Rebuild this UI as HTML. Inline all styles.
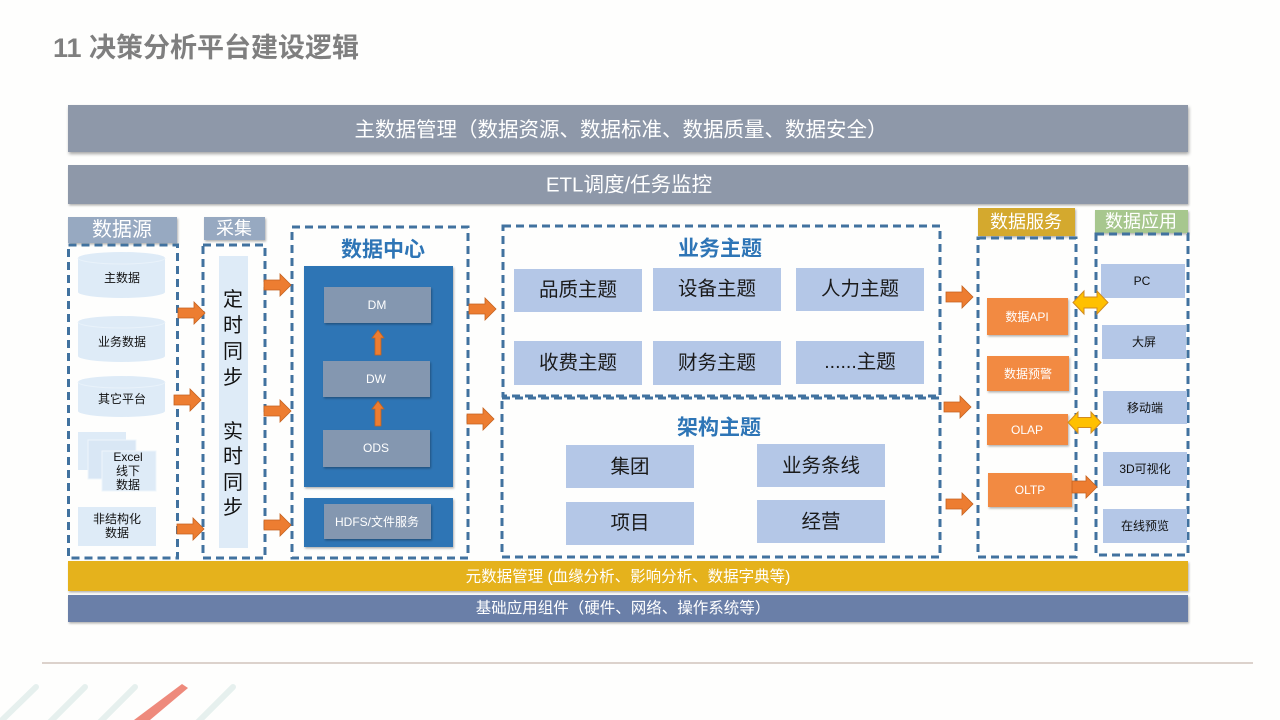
<!DOCTYPE html>
<html><head><meta charset="utf-8"><style>
html,body{margin:0;padding:0;background:#fefefd;}
svg{display:block;}
text{font-family:"Liberation Sans","Noto Sans CJK SC",sans-serif;}
</style></head><body>
<svg width="1280" height="720" viewBox="0 0 1280 720" xmlns="http://www.w3.org/2000/svg">
<defs>
<filter id="sh" x="-5%" y="-20%" width="110%" height="150%"><feDropShadow dx="1" dy="2" stdDeviation="1.5" flood-color="#000" flood-opacity="0.35"/></filter>
<filter id="sh2" x="-5%" y="-20%" width="110%" height="150%"><feDropShadow dx="1" dy="1.5" stdDeviation="1" flood-color="#000" flood-opacity="0.3"/></filter>
<polygon id="ra" points="0,6 16,6 16,0 27,11 16,22 16,16 0,16" fill="#ed7d31" stroke="#c5621f" stroke-width="0.8"/>
<polygon id="ua" points="6,0 12,8 9,8 9,25 3,25 3,8 0,8" fill="#ed7d31" stroke="#c5621f" stroke-width="0.8"/>
</defs>

<rect width="1280" height="720" fill="#fefefd"/>

<!-- title -->
<text x="53" y="57" font-size="27" font-weight="bold" fill="#7f7f7f">11 决策分析平台建设逻辑</text>

<!-- top bars -->
<rect x="68" y="105" width="1120" height="47" fill="#8e98a9" filter="url(#sh)"/>
<text x="621" y="130" font-size="20.5" fill="#ffffff" text-anchor="middle" dominant-baseline="central">主数据管理（数据资源、数据标准、数据质量、数据安全）</text>
<rect x="68" y="165" width="1120" height="39" fill="#8e98a9" filter="url(#sh2)"/>
<text x="629" y="185" font-size="20.5" fill="#ffffff" text-anchor="middle" dominant-baseline="central">ETL调度/任务监控</text>

<!-- labels -->
<rect x="68" y="217" width="109" height="26" fill="#97a9c1" filter="url(#sh2)"/>
<text x="122" y="230" font-size="20" fill="#fff" text-anchor="middle" dominant-baseline="central">数据源</text>
<rect x="204" y="217" width="61" height="23" fill="#97a9c1" filter="url(#sh2)"/>
<text x="234" y="228.5" font-size="18" fill="#fff" text-anchor="middle" dominant-baseline="central">采集</text>
<rect x="978" y="208" width="97" height="28" fill="#d4a92e" filter="url(#sh2)"/>
<text x="1026" y="222" font-size="18" fill="#fff" text-anchor="middle" dominant-baseline="central">数据服务</text>
<rect x="1095" y="210" width="93" height="23" fill="#a7c78e" filter="url(#sh2)"/>
<text x="1141" y="221.5" font-size="18" fill="#fff" text-anchor="middle" dominant-baseline="central">数据应用</text>

<!-- dashed boxes -->
<g fill="none" stroke="#41729f" stroke-width="3" stroke-dasharray="8 5">
<rect x="68.5" y="245" width="109" height="313"/>
<rect x="203" y="245" width="62" height="313"/>
<rect x="292" y="227" width="176" height="331"/>
<rect x="503" y="226" width="437" height="170"/>
<rect x="502" y="398" width="438" height="159"/>
<rect x="978" y="238" width="98" height="319"/>
<rect x="1096" y="234" width="92" height="321"/>
</g>

<!-- data sources -->
<g fill="#deebf7">
<path d="M78,258 a43.5,6 0 0 1 87,0 v34 a43.5,6 0 0 1 -87,0 z"/>
<path d="M78,322 a43.5,6 0 0 1 87,0 v34 a43.5,6 0 0 1 -87,0 z"/>
<path d="M78,382 a43.5,6 0 0 1 87,0 v29 a43.5,6 0 0 1 -87,0 z"/>
</g>
<g fill="none" stroke="#e9f2fa" stroke-width="1">
<path d="M78,258 a43.5,6 0 0 0 87,0"/>
<path d="M78,322 a43.5,6 0 0 0 87,0"/>
<path d="M78,382 a43.5,6 0 0 0 87,0"/>
</g>
<rect x="78" y="432" width="48" height="38" fill="#deebf7"/>
<rect x="88" y="440" width="48" height="39" fill="#d9e7f5" stroke="#eef5fb" stroke-width="1"/>
<rect x="102" y="451" width="54" height="40" fill="#deebf7" stroke="#eef5fb" stroke-width="1"/>
<rect x="78" y="507" width="78" height="39" fill="#deebf7"/>
<g font-size="12" fill="#111" text-anchor="middle" dominant-baseline="central">
<text x="122" y="278">主数据</text>
<text x="122" y="342">业务数据</text>
<text x="122" y="399">其它平台</text>
<text x="128" y="457">Excel</text>
<text x="128" y="471">线下</text>
<text x="128" y="485">数据</text>
<text x="117" y="519">非结构化</text>
<text x="117" y="533">数据</text>
</g>

<!-- 采集 bar -->
<rect x="219" y="256" width="29" height="292" fill="#deebf7"/>
<g font-size="20" fill="#111" text-anchor="middle" dominant-baseline="central">
<text x="233" y="300">定</text>
<text x="233" y="326">时</text>
<text x="233" y="352">同</text>
<text x="233" y="378">步</text>
<text x="233" y="432">实</text>
<text x="233" y="457">时</text>
<text x="233" y="483">同</text>
<text x="233" y="508">步</text>
</g>

<!-- 数据中心 -->
<text x="383" y="250" font-size="21" font-weight="bold" fill="#2e75b6" text-anchor="middle" dominant-baseline="central">数据中心</text>
<rect x="304" y="266" width="149" height="221" fill="#2e74b5" filter="url(#sh2)"/>
<rect x="324" y="287" width="107" height="36" fill="#8497b0" filter="url(#sh2)"/>
<rect x="323" y="361" width="107" height="36" fill="#8497b0" filter="url(#sh2)"/>
<rect x="323" y="430" width="107" height="37" fill="#8497b0" filter="url(#sh2)"/>
<rect x="304" y="498" width="149" height="49" fill="#2e74b5" filter="url(#sh2)"/>
<rect x="324" y="504" width="107" height="35" fill="#8497b0" filter="url(#sh2)"/>
<g font-size="12" fill="#fff" text-anchor="middle" dominant-baseline="central">
<text x="377" y="305">DM</text>
<text x="376" y="379">DW</text>
<text x="376" y="448">ODS</text>
<text x="377" y="522">HDFS/文件服务</text>
</g>
<use href="#ua" x="372" y="330"/>
<use href="#ua" x="372" y="401"/>

<!-- 业务主题 -->
<text x="720" y="249" font-size="21" font-weight="bold" fill="#2e75b6" text-anchor="middle" dominant-baseline="central">业务主题</text>
<g fill="#b4c7e7">
<rect x="514" y="269" width="128" height="43"/>
<rect x="653" y="268" width="128" height="43"/>
<rect x="796" y="268" width="128" height="43"/>
<rect x="514" y="341" width="128" height="44"/>
<rect x="653" y="341" width="128" height="44"/>
<rect x="796" y="341" width="128" height="43"/>
</g>
<g font-size="19.5" fill="#1a1a1a" text-anchor="middle" dominant-baseline="central">
<text x="578" y="290">品质主题</text>
<text x="717" y="289">设备主题</text>
<text x="860" y="289">人力主题</text>
<text x="578" y="363">收费主题</text>
<text x="717" y="363">财务主题</text>
<text x="860" y="362">......主题</text>
</g>

<!-- 架构主题 -->
<text x="719" y="428" font-size="21" font-weight="bold" fill="#2e75b6" text-anchor="middle" dominant-baseline="central">架构主题</text>
<g fill="#b4c7e7">
<rect x="566" y="445" width="128" height="43"/>
<rect x="757" y="444" width="128" height="43"/>
<rect x="566" y="502" width="128" height="43"/>
<rect x="757" y="500" width="128" height="43"/>
</g>
<g font-size="19.5" fill="#1a1a1a" text-anchor="middle" dominant-baseline="central">
<text x="630" y="467">集团</text>
<text x="821" y="466">业务条线</text>
<text x="630" y="523">项目</text>
<text x="821" y="522">经营</text>
</g>

<!-- 数据服务 boxes -->
<g fill="#f28a42" filter="url(#sh2)">
<rect x="987" y="298" width="81" height="37"/>
<rect x="987" y="356" width="82" height="35"/>
<rect x="987" y="414" width="81" height="31"/>
<rect x="988" y="473" width="84" height="34"/>
</g>
<g font-size="12" fill="#fff" text-anchor="middle" dominant-baseline="central">
<text x="1027" y="317">数据API</text>
<text x="1028" y="374">数据预警</text>
<text x="1027" y="430">OLAP</text>
<text x="1030" y="490">OLTP</text>
</g>

<!-- 数据应用 boxes -->
<g fill="#b4c7e7">
<rect x="1101" y="264" width="84" height="34"/>
<rect x="1102" y="325" width="84" height="34"/>
<rect x="1103" y="391" width="84" height="33"/>
<rect x="1103" y="452" width="84" height="34"/>
<rect x="1103" y="509" width="84" height="34"/>
</g>
<g font-size="12" fill="#111" text-anchor="middle" dominant-baseline="central">
<text x="1142" y="281">PC</text>
<text x="1144" y="342">大屏</text>
<text x="1145" y="408">移动端</text>
<text x="1145" y="469">3D可视化</text>
<text x="1145" y="526">在线预览</text>
</g>

<!-- arrows -->
<use href="#ra" x="178" y="302"/>
<use href="#ra" x="174" y="389"/>
<use href="#ra" x="177" y="518"/>
<use href="#ra" x="264" y="274"/>
<use href="#ra" x="264" y="400"/>
<use href="#ra" x="264" y="514"/>
<use href="#ra" x="469" y="298"/>
<use href="#ra" x="467" y="408"/>
<use href="#ra" x="946" y="286"/>
<use href="#ra" x="944" y="396"/>
<use href="#ra" x="946" y="493"/>
<polygon points="1072,481 1086,481 1086,476 1097,487 1086,498 1086,493 1072,493" fill="#ed7d31" stroke="#c5621f" stroke-width="0.8"/>
<polygon points="1073,302.5 1084,291 1084,297 1097,297 1097,291 1108,302.5 1097,314 1097,308 1084,308 1084,314" fill="#ffc000" stroke="#d08a20" stroke-width="1"/>
<polygon points="1068,422.5 1078,412 1078,417.5 1091,417.5 1091,412 1101,422.5 1091,433 1091,427.5 1078,427.5 1078,433" fill="#ffc000" stroke="#d08a20" stroke-width="1"/>

<!-- bottom bars -->
<rect x="68" y="561" width="1120" height="30" fill="#e5b21b" filter="url(#sh2)"/>
<text x="628" y="577" font-size="15.5" fill="#fff" text-anchor="middle" dominant-baseline="central">元数据管理 (血缘分析、影响分析、数据字典等)</text>
<rect x="68" y="595" width="1120" height="27" fill="#6a7fa8" filter="url(#sh2)"/>
<text x="623" y="608.5" font-size="15.5" fill="#fff" text-anchor="middle" dominant-baseline="central">基础应用组件（硬件、网络、操作系统等）</text>

<!-- footer line -->
<rect x="42" y="662" width="1211" height="2" fill="#dcd2cc"/>

<!-- decoration -->
<g stroke="#e6f0ee" stroke-width="6" stroke-linecap="round">
<line x1="0" y1="722" x2="36" y2="687"/>
<line x1="50" y1="722" x2="85" y2="687"/>
<line x1="100" y1="722" x2="135" y2="687"/>
<line x1="198" y1="722" x2="233" y2="687"/>
</g>
<polygon points="182,684 188,688 150,720 134,720" fill="#ee8a7c"/>
</svg>
</body></html>
